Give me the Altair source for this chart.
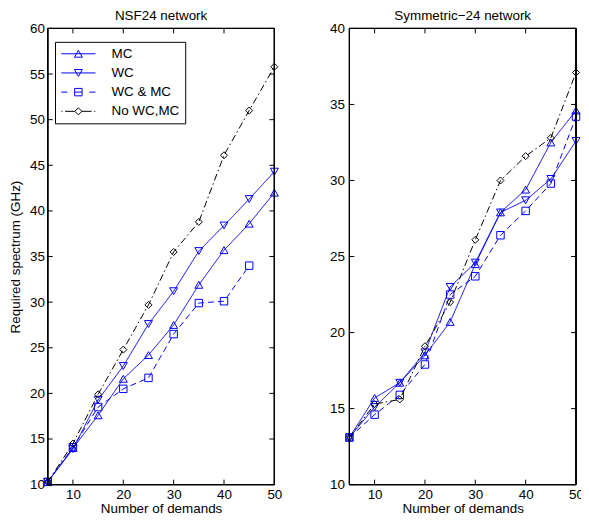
import altair as alt
import pandas as pd

FONT = "Liberation Sans"

demands = [5, 10, 15, 20, 25, 30, 35, 40, 45, 50]
series_names = ["MC", "WC", "WC & MC", "No WC,MC"]

# NSF24 network
nsf_mc = [10.3, 14.0, 17.6, 21.6, 24.2, 27.5, 31.9, 35.7, 38.6, 42.0]
nsf_wc = [10.3, 13.9, 19.3, 23.0, 27.6, 31.2, 35.6, 38.4, 41.3, 44.3]
nsf_wcmc = [10.3, 14.1, 18.5, 20.5, 21.7, 26.5, 29.9, 30.1, 34.0]
nsf_none = [10.3, 14.5, 19.9, 24.8, 29.7, 35.5, 38.8, 46.1, 51.0, 55.8]

# Symmetric-24 network
sym_mc = [13.1, 15.7, 16.7, 18.5, 20.7, 24.5, 27.9, 29.4, 32.5, 34.6]
sym_wc = [13.1, 15.1, 16.7, 18.7, 23.0, 24.6, 27.9, 28.7, 30.1, 32.6]
sym_wcmc = [13.1, 14.6, 15.9, 17.9, 22.5, 23.7, 26.4, 28.0, 29.8, 34.2]
sym_none = [13.1, 15.3, 15.6, 19.1, 22.0, 26.1, 30.0, 31.6, 32.8, 37.1]

x_ticks = [10, 20, 30, 40, 50]
nsf_y_ticks = [10, 15, 20, 25, 30, 35, 40, 45, 50, 55, 60]
sym_y_ticks = [10, 15, 20, 25, 30, 35, 40]

styles = {
    "MC": dict(color="#0000ff", dash=[1, 0], shape="triangle-up", size=64,
               legend_path="M-2.65,0H2.65M0,-0.53L0.615,0.53H-0.615Z"),
    "WC": dict(color="#0000ff", dash=[1, 0], shape="triangle-down", size=64,
               legend_path="M-2.65,0H2.65M0,0.53L0.615,-0.53H-0.615Z"),
    "WC & MC": dict(color="#0000ff", dash=[6, 4], shape="square", size=56,
                    legend_path="M-2.65,0H-1.7M1.7,0H2.65M-0.575,-0.575H0.575V0.575H-0.575ZM-0.575,0H0.575"),
    "No WC,MC": dict(color="#000000", dash=[7, 3, 1.5, 3], shape="diamond", size=50,
                     legend_path="M-2.62,0H-2.45M-2.05,0H-0.55M0.55,0H2.05M2.45,0H2.62M0,-0.55L0.55,0L0,0.55L-0.55,0Z"),
}

W, H = 228, 459


def long_df(cols):
    rows = []
    for name, vals in zip(series_names, cols):
        for xi, v in zip(demands, vals):
            rows.append({"demands": xi, "spectrum": v, "series": name})
    return pd.DataFrame(rows)


def panel(df, ydom, yticks, title, ytitle, with_legend):
    xs = alt.Scale(domain=[5, 50], nice=False, zero=False)
    ys = alt.Scale(domain=ydom, nice=False, zero=False)
    X = alt.X("demands:Q", scale=xs,
              axis=alt.Axis(values=x_ticks, title="Number of demands",
                            labelPadding=3, titlePadding=0.5, labelFlush=False))
    if ytitle:
        yaxis = alt.Axis(values=yticks, title=ytitle, labelPadding=3.4, titlePadding=6.8,
                         labelFlush=False)
    else:
        yaxis = alt.Axis(values=yticks, title=None, labelPadding=5, labelFlush=False)
    Y = alt.Y("spectrum:Q", scale=ys, axis=yaxis)

    base = alt.Chart(df)
    layers = []
    for name in series_names:
        st = styles[name]
        sub = base.transform_filter(alt.datum.series == name)
        layers.append(sub.mark_line(color=st["color"], strokeWidth=1, strokeDash=st["dash"])
                      .encode(x=X, y=Y))
        layers.append(sub.mark_point(shape=st["shape"], size=st["size"], filled=False,
                                     color=st["color"], strokeWidth=1, opacity=1)
                      .encode(x=X, y=Y))

    xt = alt.Chart(pd.DataFrame({"demands": x_ticks}))
    yt = alt.Chart(pd.DataFrame({"spectrum": yticks}))
    layers.append(xt.mark_rule(color="black", strokeWidth=1).encode(
        x=X, y=alt.value(H), y2=alt.value(H - 5)))
    layers.append(xt.mark_rule(color="black", strokeWidth=1).encode(
        x=X, y=alt.value(0), y2=alt.value(5)))
    layers.append(yt.mark_rule(color="black", strokeWidth=1).encode(
        y=Y, x=alt.value(0), x2=alt.value(5)))
    layers.append(yt.mark_rule(color="black", strokeWidth=1).encode(
        y=Y, x=alt.value(W - 5), x2=alt.value(W)))
    # plot frame
    layers.append(xt.mark_rect(fillOpacity=0, stroke="black", strokeWidth=1).encode(
        x=alt.value(0), x2=alt.value(W), y=alt.value(0), y2=alt.value(H)))
    # panel title
    layers.append(
        alt.Chart(pd.DataFrame({"title": [title]}))
        .mark_text(align="center", baseline="alphabetic", font=FONT, fontSize=13.5,
                   color="black")
        .encode(text="title:N", x=alt.value(W / 2), y=alt.value(-8.4))
    )

    if with_legend:
        leg = alt.Legend(orient="none", legendX=7.3, legendY=13.5, title=None,
                         strokeColor="black", fillColor="white", padding=5,
                         rowPadding=5.3, labelOffset=26.3, symbolOffset=11.5,
                         symbolSize=169, symbolStrokeWidth=1, labelFontSize=13.5,
                         labelFont=FONT, labelColor="black", symbolOpacity=1,
                         cornerRadius=0)
        ldf = pd.DataFrame({"series": series_names})
        layers.append(
            alt.Chart(ldf).transform_filter("false")
            .mark_point(filled=False, size=169, strokeWidth=1)
            .encode(
                color=alt.Color("series:N", scale=alt.Scale(
                    domain=series_names, range=[styles[n]["color"] for n in series_names]),
                    legend=leg),
                shape=alt.Shape("series:N", scale=alt.Scale(
                    domain=series_names, range=[styles[n]["legend_path"] for n in series_names]),
                    legend=leg),
            )
        )

    return alt.layer(*layers).properties(width=W, height=H)


left = panel(long_df([nsf_mc, nsf_wc, nsf_wcmc, nsf_none]), [10, 60], nsf_y_ticks,
             "NSF24 network", "Required spectrum (GHz)", True)
right = panel(long_df([sym_mc, sym_wc, sym_wcmc, sym_none]), [10, 40], sym_y_ticks,
              "Symmetric\u221224 network", "", False)

chart = (
    alt.hconcat(left, right, spacing=46.5)
    .properties(padding={"left": 0, "top": -1, "right": -3.5, "bottom": -2})
    .configure_view(strokeWidth=0)
    .configure_axis(domain=False, ticks=False, grid=False,
                    labelFont=FONT, titleFont=FONT, labelFontSize=13.5, titleFontSize=13.5,
                    titleFontWeight="normal", labelColor="black", titleColor="black")
)

chart.save("out.html", embed_options={"renderer": "svg", "actions": False})
